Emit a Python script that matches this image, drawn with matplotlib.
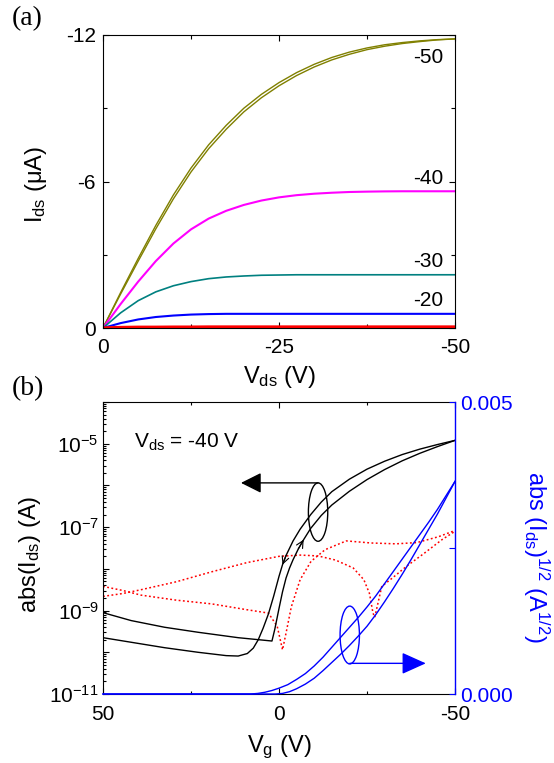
import matplotlib
matplotlib.use('Agg')
import matplotlib.pyplot as plt
import numpy as np
from matplotlib.patches import Ellipse
from matplotlib.ticker import FixedLocator, NullFormatter, FuncFormatter, LogLocator

plt.rcParams['font.family'] = 'Liberation Sans'
plt.rcParams['mathtext.fontset'] = 'custom'
plt.rcParams['mathtext.rm'] = 'Liberation Sans'
plt.rcParams['mathtext.it'] = 'Liberation Sans:italic'
plt.rcParams['mathtext.default'] = 'regular'
plt.rcParams['axes.unicode_minus'] = False

# ---------------- Panel (a) data: output curves ----------------
vds = [0, -2.5, -5, -7.5, -10, -12.5, -15, -17.5, -20, -22.5, -25, -27.5, -30,
       -32.5, -35, -37.5, -40, -42.5, -45, -47.5, -50]
ids_m50_fwd = [0, -1.45, -2.85, -4.2, -5.45, -6.55, -7.5, -8.3, -9.0, -9.57, -10.05,
               -10.46, -10.8, -11.08, -11.3, -11.47, -11.6, -11.69, -11.76, -11.81, -11.84]
ids_m50_rev = [0, -1.39, -2.74, -4.06, -5.29, -6.39, -7.34, -8.14, -8.85, -9.43, -9.92,
               -10.34, -10.69, -10.98, -11.21, -11.4, -11.54, -11.65, -11.73, -11.8, -11.84]
ids_m40 = [0, -0.98, -1.9, -2.74, -3.46, -4.04, -4.48, -4.8, -5.04, -5.22, -5.35,
           -5.44, -5.5, -5.54, -5.57, -5.585, -5.595, -5.6, -5.6, -5.6, -5.6]
ids_m30 = [0, -0.62, -1.12, -1.48, -1.73, -1.9, -2.02, -2.09, -2.13, -2.16, -2.17,
           -2.18, -2.18, -2.18, -2.18, -2.18, -2.18, -2.18, -2.18, -2.18, -2.18]
ids_m20 = [0, -0.2, -0.35, -0.45, -0.51, -0.55, -0.57, -0.58, -0.58, -0.58, -0.58,
           -0.58, -0.58, -0.58, -0.58, -0.58, -0.58, -0.58, -0.58, -0.58, -0.58]
ids_m10 = [0, -0.02, -0.03, -0.03, -0.035, -0.035, -0.04, -0.04, -0.04, -0.04, -0.04,
           -0.04, -0.04, -0.04, -0.04, -0.04, -0.04, -0.04, -0.04, -0.04, -0.04]
vg_labels = ['-50', '-40', '-30', '-20']

# ---------------- Panel (b) data: transfer curves ----------------
vg_fwd = [50, 42, 32.5, 23, 11.6, 2.0, 1.2, 0, -1, -2, -3, -4, -5.5, -7, -9, -12,
          -15, -20, -25, -30, -35, -40, -45, -50]
log_ids_fwd = [-9.05, -9.24, -9.4, -9.52, -9.65, -9.73, -9.45, -8.95, -8.55, -8.22,
               -7.98, -7.78, -7.52, -7.3, -7.03, -6.72, -6.47, -6.14, -5.86, -5.62,
               -5.41, -5.23, -5.07, -4.92]
vg_rev = [-50, -45, -40, -35, -30, -25, -20, -15, -12, -9, -6, -4, -2, -1, 0,
          1.5, 3, 4.5, 5.9, 7.3, 9, 11.6, 15, 23, 32.5, 50]
log_ids_rev = [-4.92, -5.02, -5.13, -5.26, -5.42, -5.61, -5.85, -6.15, -6.4, -6.7,
               -7.05, -7.33, -7.68, -7.9, -8.18, -8.65, -9.08, -9.42, -9.7, -9.9,
               -10.03, -10.09, -10.08, -10.0, -9.89, -9.65]

vg_gate1 = [50, 44.3, 39.2, 29.2, 19.1, 9.1, 0, -6, -11.1, -16.1, -21.1, -24.1, -25.7,
            -26.7, -27.2, -29.2, -32.2, -36.2, -41.2, -46.3, -50]
log_ig1 = [-8.66, -8.59, -8.5, -8.31, -8.07, -7.85, -7.7, -7.67, -7.69, -7.79, -7.98,
           -8.26, -8.59, -9.06, -9.16, -8.42, -8.22, -7.94, -7.63, -7.3, -7.1]
vg_gate2 = [50, 44.3, 39.2, 29.2, 19.1, 9.1, 3, 0.5, -1, -2, -3.5, -6, -9.1, -13.1,
            -19.1, -26.2, -33.2, -39.2, -45.3, -50]
log_ig2 = [-8.42, -8.52, -8.63, -8.75, -8.84, -8.98, -9.06, -9.38, -9.94, -9.54, -8.91,
           -8.26, -7.82, -7.54, -7.33, -7.38, -7.4, -7.37, -7.23, -7.08]

vg_sq1 = [50, 8, 6, 4, 2, 0, -2.5, -5, -7.5, -10, -12.5, -15, -17.5, -20, -22.5, -25,
          -27.5, -30, -32.5, -35, -37.5, -40, -42.5, -45, -47.5, -50]
sqrt_ids1 = [0, 0, 0.00001, 0.00003, 0.00006, 0.0001, 0.00016, 0.00025, 0.00035,
             0.00048, 0.00063, 0.0008, 0.00097, 0.00114, 0.00131, 0.00149, 0.00168,
             0.00189, 0.0021, 0.00231, 0.00252, 0.00273, 0.00294, 0.00316, 0.0034,
             0.00364]
vg_sq2 = [50, 1, -1, -3, -5, -7.5, -10, -12.5, -15, -17.5, -20, -22.5, -25, -27.5, -30,
          -32.5, -35, -37.5, -40, -42.5, -45, -47.5, -50]
sqrt_ids2 = [0, 0, 0.00001, 0.00004, 0.00009, 0.00017, 0.00027, 0.0004, 0.00054,
             0.00068, 0.00083, 0.00099, 0.00116, 0.00136, 0.00158, 0.00181, 0.00205,
             0.0023, 0.00256, 0.00282, 0.00308, 0.00336, 0.00364]

W, H = 554, 763
fig = plt.figure(figsize=(W / 100, H / 100), dpi=100)

TICK_FS = 15
LABEL_FS = 17

# ================= Panel (a) =================
axa = fig.add_axes([103 / W, 1 - 328 / H, 352 / W, 293 / H])
axa.plot(vds, ids_m50_fwd, color='#808000', lw=1.0)
axa.plot(vds, ids_m50_rev, color='#808000', lw=1.0)
axa.plot(vds, ids_m40, color='#ff00ff', lw=1.5)
axa.plot(vds, ids_m30, color='#008080', lw=1.2)
axa.plot(vds, ids_m20, color='#0000ff', lw=1.5)
axa.plot(vds, ids_m10, color='#ff0000', lw=2.4)
axa.set_xlim(0, -50)
axa.set_ylim(0, -12)
axa.xaxis.set_major_locator(FixedLocator([0, -25, -50]))
axa.xaxis.set_minor_locator(FixedLocator([-12.5, -37.5]))
axa.yaxis.set_major_locator(FixedLocator([0, -6, -12]))
axa.yaxis.set_minor_locator(FixedLocator([-3, -9]))
axa.xaxis.set_major_formatter(FuncFormatter(lambda v, p: '%g' % v))
axa.yaxis.set_major_formatter(FuncFormatter(lambda v, p: '%g' % v))
axa.tick_params(which='both', direction='in', top=True, right=True, width=0.8)
axa.tick_params(which='major', length=4, labelsize=TICK_FS)
axa.tick_params(which='minor', length=3)
axa.tick_params(axis='x', which='major', pad=7)
axa.tick_params(axis='y', which='major', pad=5)

label_y = [0.924, 0.509, 0.226, 0.094]
for lab, yy in zip(vg_labels, label_y):
    axa.text(0.882, yy, lab, transform=axa.transAxes, fontsize=TICK_FS,
             ha='left', va='center')

axa.text(0.5, -0.188, r'V$_{\rm ds}$ (V)', transform=axa.transAxes,
         fontsize=LABEL_FS, ha='center', va='baseline')
axa.text(-0.172, 0.49, r'I$_{\rm ds}$ (μA)', transform=axa.transAxes,
         fontsize=LABEL_FS, ha='center', va='baseline', rotation=90,
         rotation_mode='anchor')

fig.text(12 / W, 1 - 6 / H, '(a)', family='Liberation Serif', fontsize=20,
         ha='left', va='top')
fig.text(12 / W, 1 - 376 / H, '(b)', family='Liberation Serif', fontsize=20,
         ha='left', va='top')

# ================= Panel (b) =================
axb = fig.add_axes([103 / W, 1 - 694 / H, 352 / W, 292 / H])
axb.set_yscale('log')
axb.plot(vg_gate1, 10.0 ** np.array(log_ig1), color='#ff0000', lw=1.1,
         linestyle=(0, (1.2, 1.6)), zorder=2)
axb.plot(vg_gate2, 10.0 ** np.array(log_ig2), color='#ff0000', lw=1.1,
         linestyle=(0, (1.2, 1.6)), zorder=2)
axb.plot(vg_fwd, 10.0 ** np.array(log_ids_fwd), color='black', lw=1.0, zorder=3)
axb.plot(vg_rev, 10.0 ** np.array(log_ids_rev), color='black', lw=1.0, zorder=3)
axb.set_xlim(50, -50)
axb.set_ylim(1e-11, 1e-4)
axb.xaxis.set_major_locator(FixedLocator([50, 0, -50]))
axb.xaxis.set_minor_locator(FixedLocator([25, -25]))
axb.xaxis.set_major_formatter(FuncFormatter(lambda v, p: '%g' % v))
axb.yaxis.set_major_locator(FixedLocator([10.0 ** k for k in range(-11, -3)]))
axb.yaxis.set_minor_locator(LogLocator(base=10, subs=np.arange(2, 10), numticks=30))
axb.yaxis.set_minor_formatter(NullFormatter())


def logfmt(v, p):
    k = int(round(np.log10(v)))
    if k in (-11, -9, -7, -5):
        return r'$10^{%d}$' % k
    return ''


axb.yaxis.set_major_formatter(FuncFormatter(logfmt))
axb.tick_params(which='both', direction='in', top=True, right=False, width=0.8)
axb.tick_params(which='major', length=4, labelsize=TICK_FS)
axb.tick_params(which='minor', length=2.5)
axb.tick_params(axis='x', which='major', pad=8)
axb.tick_params(axis='y', which='major', pad=3)
axb.spines['right'].set_visible(False)

# small sweep-direction arrows taken from curve points
i = vg_rev.index(-2)
axb.annotate('', xy=(vg_rev[i + 1], 10.0 ** log_ids_rev[i + 1]),
             xytext=(vg_rev[i], 10.0 ** log_ids_rev[i]),
             arrowprops=dict(arrowstyle='->,head_length=0.5,head_width=0.25',
                             lw=0.8, color='black', shrinkA=0, shrinkB=0), zorder=4)
j = vg_fwd.index(-5.5)
axb.annotate('', xy=(vg_fwd[j + 1], 10.0 ** log_ids_fwd[j + 1]),
             xytext=(vg_fwd[j], 10.0 ** log_ids_fwd[j]),
             arrowprops=dict(arrowstyle='->,head_length=0.5,head_width=0.25',
                             lw=0.8, color='black', shrinkA=0, shrinkB=0), zorder=4)

axb.text(0.088, 0.842, r'V$_{\rm ds}$ = -40 V', transform=axb.transAxes,
         fontsize=TICK_FS, ha='left', va='baseline')
axb.text(0.5, -0.199, r'V$_{\rm g}$ (V)', transform=axb.transAxes,
         fontsize=LABEL_FS, ha='center', va='baseline')
axb.text(-0.19, 0.48, r'abs(I$_{\rm ds}$) (A)', transform=axb.transAxes,
         fontsize=LABEL_FS, ha='center', va='baseline', rotation=90,
         rotation_mode='anchor')

# black ellipse + arrow
axb.add_patch(Ellipse((0.611, 0.623), 0.055, 0.2, transform=axb.transAxes,
                      fill=False, ec='black', lw=1.0, zorder=5))
axb.annotate('', xy=(0.392, 0.723), xytext=(0.611, 0.723),
             xycoords='axes fraction', textcoords='axes fraction',
             arrowprops=dict(arrowstyle='-|>,head_length=0.9,head_width=0.45',
                             mutation_scale=14, lw=1.0, color='black',
                             shrinkA=0, shrinkB=0), zorder=5)

# right axis (sqrt)
axr = axb.twinx()
axr.plot(vg_sq1, sqrt_ids1, color='#0000ff', lw=1.0, clip_on=False, zorder=3)
axr.plot(vg_sq2, sqrt_ids2, color='#0000ff', lw=1.0, clip_on=False, zorder=3)
axr.set_ylim(0, 0.005)
axr.set_xlim(50, -50)
axr.yaxis.set_major_locator(FixedLocator([0, 0.005]))
axr.yaxis.set_minor_locator(FixedLocator([0.0025]))
axr.yaxis.set_major_formatter(FuncFormatter(lambda v, p: '%.3f' % v))
axr.tick_params(axis='y', which='both', direction='in', colors='#0000ff',
                labelsize=TICK_FS, width=0.8, pad=4)
axr.tick_params(axis='y', which='major', length=4)
axr.tick_params(axis='y', which='minor', length=4)
axr.spines['right'].set_color('#0000ff')
axr.spines['right'].set_linewidth(1.0)
for s in ('left', 'top', 'bottom'):
    axr.spines[s].set_visible(False)

axr.add_patch(Ellipse((0.701, 0.202), 0.055, 0.198, transform=axr.transAxes,
                      fill=False, ec='#0000ff', lw=1.0, zorder=5))
axr.annotate('', xy=(0.917, 0.105), xytext=(0.701, 0.105),
             xycoords='axes fraction', textcoords='axes fraction',
             arrowprops=dict(arrowstyle='-|>,head_length=1.0,head_width=0.45',
                             mutation_scale=15, lw=1.0, color='#0000ff',
                             shrinkA=0, shrinkB=0), zorder=5)

axr.text(1.207, 0.469, r'abs (I$_{\rm ds}$)$^{1/2}$ (A$^{1/2}$)', transform=axr.transAxes,
         fontsize=LABEL_FS, color='#0000ff', ha='center', va='baseline',
         rotation=270, rotation_mode='anchor')

fig.savefig('out.png', dpi=100)
